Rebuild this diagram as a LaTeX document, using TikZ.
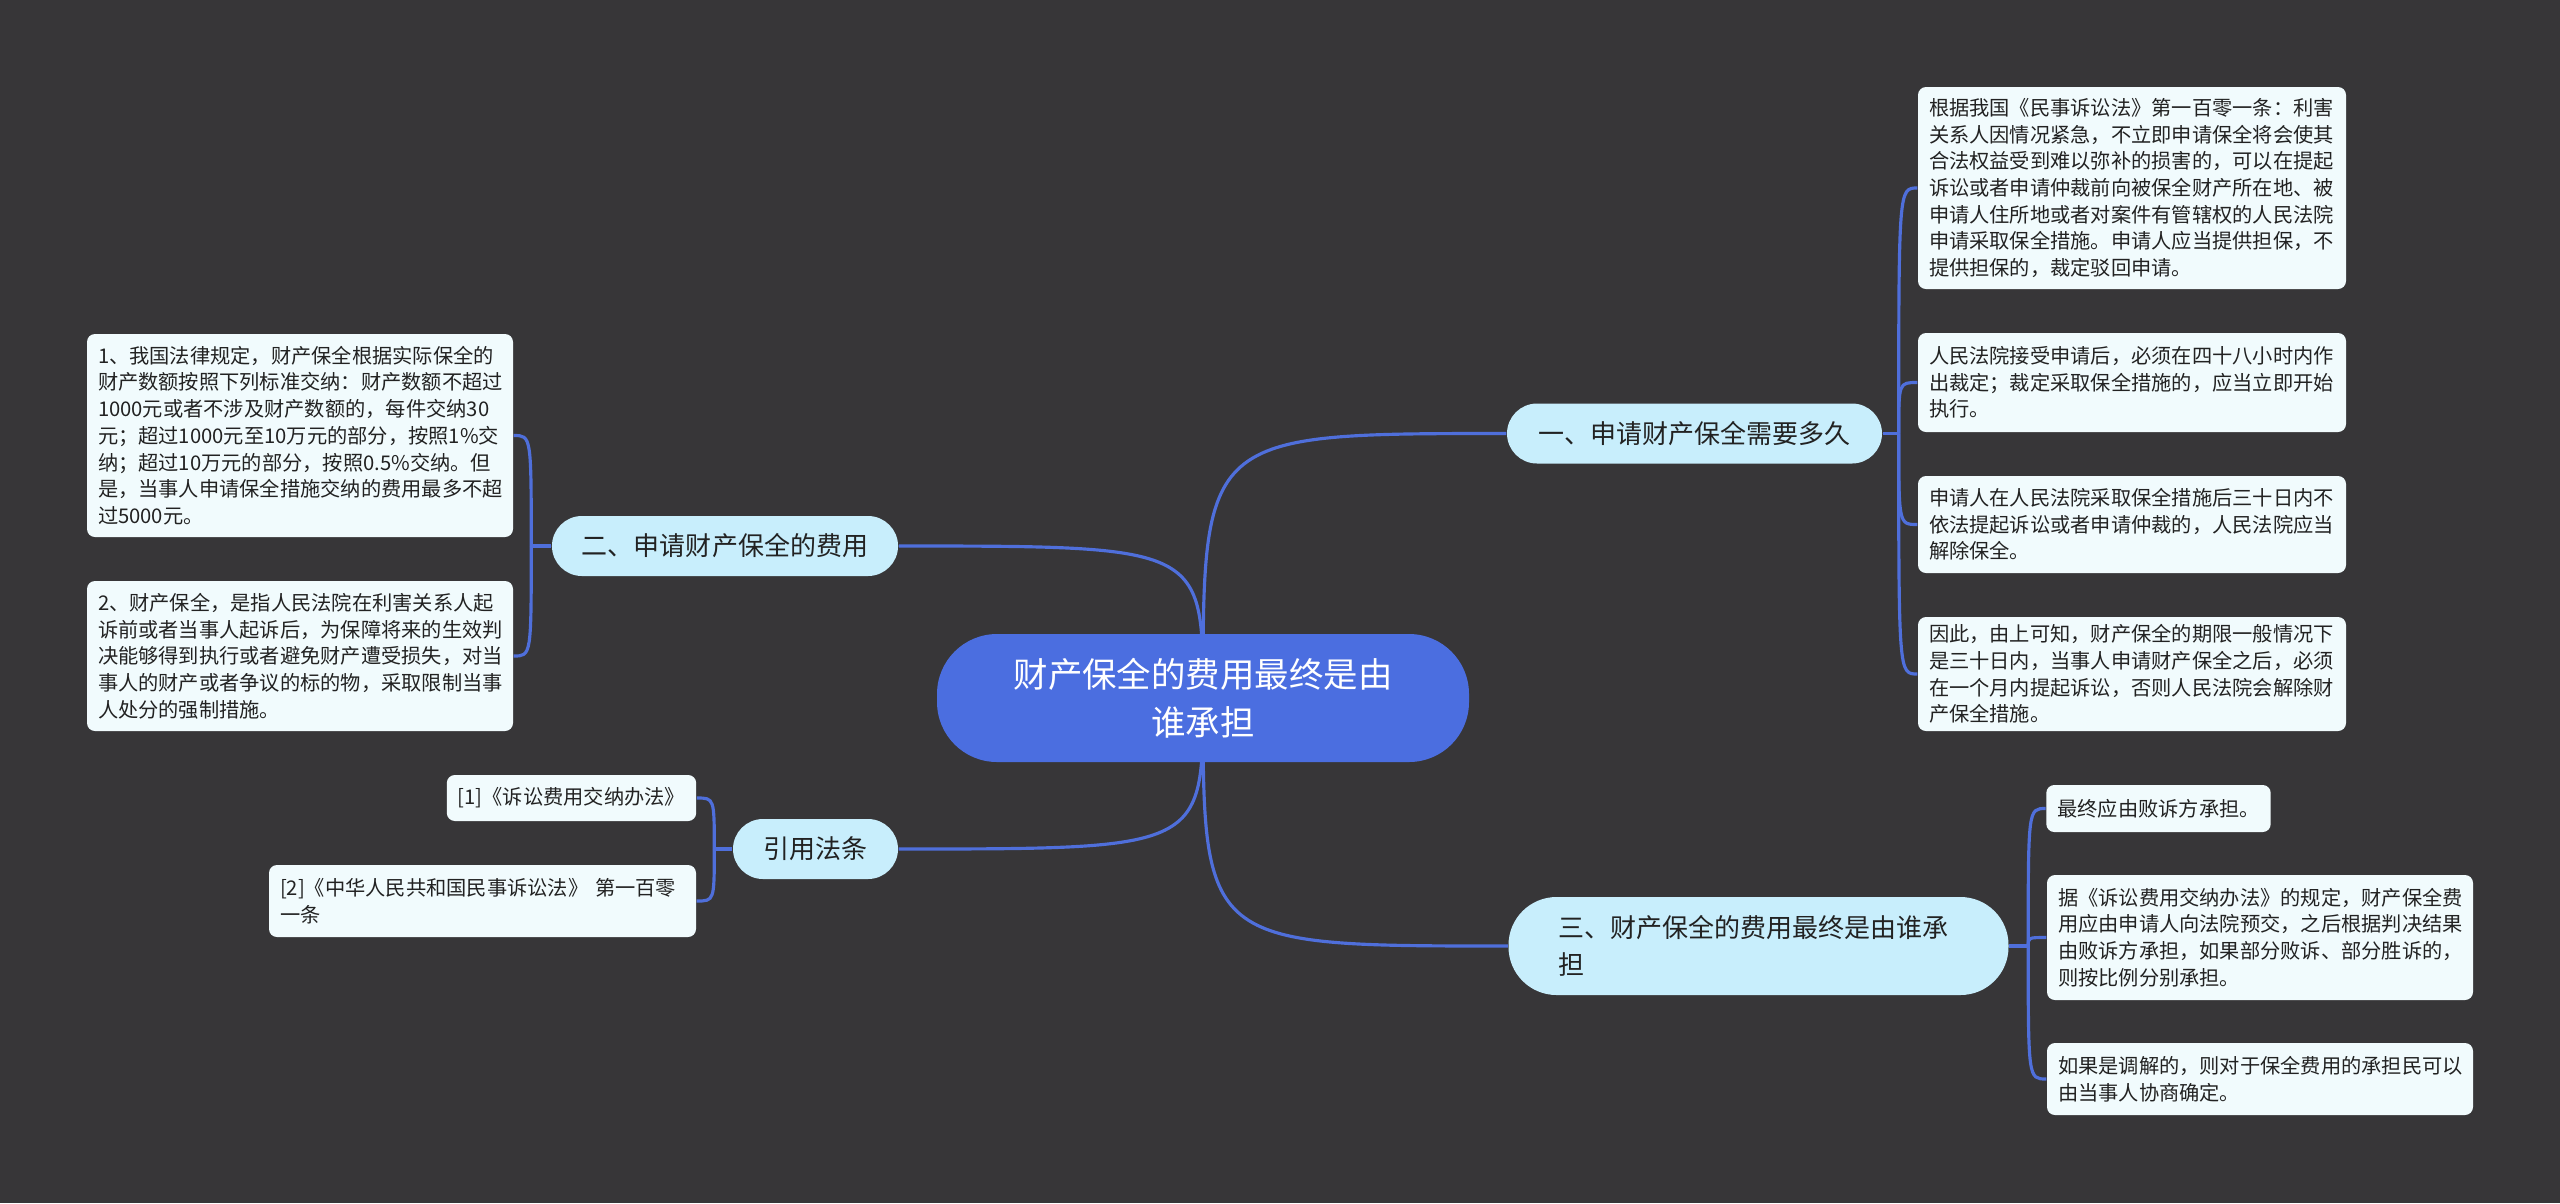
\documentclass[tikz,border=0pt]{standalone}
\usepackage{fontspec}
\setmainfont{Noto Sans CJK SC}
\usetikzlibrary{positioning,backgrounds}
\definecolor{bgdark}{HTML}{373638}
\definecolor{rootblue}{HTML}{4B6EE0}
\definecolor{linkblue}{HTML}{4F6FDB}
\definecolor{branchbg}{HTML}{C8EEFC}
\definecolor{leafbg}{HTML}{F1FBFD}
\definecolor{inktext}{HTML}{222222}

\begin{document}
\begin{tikzpicture}
    \tikzstyle{root}=[fill=rootblue, text=white, rounded corners=0.6cm, align=center, minimum width=5.32cm, minimum height=1.28cm, font=\fontsize{9.8pt}{13.7pt}\selectfont]
    \tikzstyle{branch}=[fill=branchbg, text=inktext, rounded corners=0.3cm, minimum height=0.6cm, inner xsep=0.3cm, font=\fontsize{7.4pt}{10.7pt}\selectfont]
    \tikzstyle{leaf}=[fill=leafbg, text=inktext, rounded corners=0.08cm, align=left, inner xsep=0.11cm, inner ysep=0.04cm, font=\fontsize{5.76pt}{7.6pt}\selectfont]
    \tikzstyle{link}=[draw=linkblue, line width=0.9pt]
    \useasboundingbox (0,0) rectangle (25.6,-12.03);
    % centre and main topics
    \node[root] (root) at (12.03,-6.98) {财产保全的费用最终是由\\谁承担};
    \node[branch, minimum width=3.75cm] (b1) at (16.945,-4.335) {一、申请财产保全需要多久};
    \node[branch, minimum width=3.46cm] (b2) at (7.25,-5.46) {二、申请财产保全的费用};
    \node[branch, minimum width=1.65cm] (bref) at (8.155,-8.49) {引用法条};
    \node[branch, align=left, text width=4.0cm, inner xsep=0.5cm, minimum height=0.98cm, rounded corners=0.48cm] (b3) at (17.585,-9.46) {三、财产保全的费用最终是由谁承\\担};
    % details
    \node[leaf, text width=4.06cm, minimum height=2.02cm] (l1) at (21.32,-1.88) {根据我国《民事诉讼法》第一百零一条：利害\\关系人因情况紧急，不立即申请保全将会使其\\合法权益受到难以弥补的损害的，可以在提起\\诉讼或者申请仲裁前向被保全财产所在地、被\\申请人住所地或者对案件有管辖权的人民法院\\申请采取保全措施。申请人应当提供担保，不\\提供担保的，裁定驳回申请。};
    \node[leaf, text width=4.06cm, minimum height=0.99cm] (l2) at (21.32,-3.825) {人民法院接受申请后，必须在四十八小时内作\\出裁定；裁定采取保全措施的，应当立即开始\\执行。};
    \node[leaf, text width=4.06cm, minimum height=0.97cm] (l3) at (21.32,-5.245) {申请人在人民法院采取保全措施后三十日内不\\依法提起诉讼或者申请仲裁的，人民法院应当\\解除保全。};
    \node[leaf, text width=4.06cm, minimum height=1.14cm] (l4) at (21.32,-6.74) {因此，由上可知，财产保全的期限一般情况下\\是三十日内，当事人申请财产保全之后，必须\\在一个月内提起诉讼，否则人民法院会解除财\\产保全措施。};
    \node[leaf, minimum height=0.47cm] (r1) at (21.585,-8.085) {最终应由败诉方承担。};
    \node[leaf, text width=4.04cm, minimum height=1.25cm] (r2) at (22.60,-9.375) {据《诉讼费用交纳办法》的规定，财产保全费\\用应由申请人向法院预交，之后根据判决结果\\由败诉方承担，如果部分败诉、部分胜诉的，\\则按比例分别承担。};
    \node[leaf, text width=4.04cm, minimum height=0.72cm] (r3) at (22.60,-10.79) {如果是调解的，则对于保全费用的承担民可以\\由当事人协商确定。};
    \node[leaf, text width=4.04cm, minimum height=2.03cm] (a1) at (3.00,-4.355) {1、我国法律规定，财产保全根据实际保全的\\财产数额按照下列标准交纳：财产数额不超过\\1000元或者不涉及财产数额的，每件交纳30\\元；超过1000元至10万元的部分，按照1\%交\\纳；超过10万元的部分，按照0.5\%交纳。但\\是，当事人申请保全措施交纳的费用最多不超\\过5000元。};
    \node[leaf, text width=4.04cm, minimum height=1.50cm] (a2) at (3.00,-6.56) {2、财产保全，是指人民法院在利害关系人起\\诉前或者当事人起诉后，为保障将来的生效判\\决能够得到执行或者避免财产遭受损失，对当\\事人的财产或者争议的标的物，采取限制当事\\人处分的强制措施。};
    \node[leaf, minimum width=2.49cm, minimum height=0.46cm] (c1) at (5.715,-7.98) {[1]《诉讼费用交纳办法》};
    \node[leaf, text width=4.05cm, minimum height=0.72cm] (c2) at (4.825,-9.01) {[2]《中华人民共和国民事诉讼法》~第一百零\\一条};
    \coordinate[right=0.16cm of b1.east] (b1j);
    \coordinate[left=0.2cm of b2.west] (b2j);
    \coordinate[left=0.18cm of bref.west] (brefj);
    \coordinate[right=0.19cm of b3.east] (b3j);
    \begin{scope}[on background layer]
      \fill[bgdark] (0,0) rectangle (25.6,-12.03);
      % centre to main topics, from behind the centre
      \draw[link] (root.center) .. controls (root.center |- b1.west) .. (b1.west);
      \draw[link] (root.center) .. controls (root.center |- b2.east) .. (b2.east);
      \draw[link] (root.center) .. controls (root.center |- bref.east) .. (bref.east);
      \draw[link] (root.center) .. controls (root.center |- b3.west) .. (b3.west);
      % main topics to details
      \draw[link] (b1.east) -- (b1j); \draw[link] (b2.west) -- (b2j);
      \draw[link] (bref.west) -- (brefj); \draw[link] (b3.east) -- (b3j);
      \draw[link] (b1j) .. controls (b1j |- l1.west) .. (l1.west);
      \draw[link] (b1j) .. controls (b1j |- l2.west) .. (l2.west);
      \draw[link] (b1j) .. controls (b1j |- l3.west) .. (l3.west);
      \draw[link] (b1j) .. controls (b1j |- l4.west) .. (l4.west);
      \draw[link] (b3j) .. controls (b3j |- r1.west) .. (r1.west);
      \draw[link] (b3j) .. controls (b3j |- r2.west) .. (r2.west);
      \draw[link] (b3j) .. controls (b3j |- r3.west) .. (r3.west);
      \draw[link] (b2j) .. controls (b2j |- a1.east) .. (a1.east);
      \draw[link] (b2j) .. controls (b2j |- a2.east) .. (a2.east);
      \draw[link] (brefj) .. controls (brefj |- c1.east) .. (c1.east);
      \draw[link] (brefj) .. controls (brefj |- c2.east) .. (c2.east);
    \end{scope}
\end{tikzpicture}
\end{document}
